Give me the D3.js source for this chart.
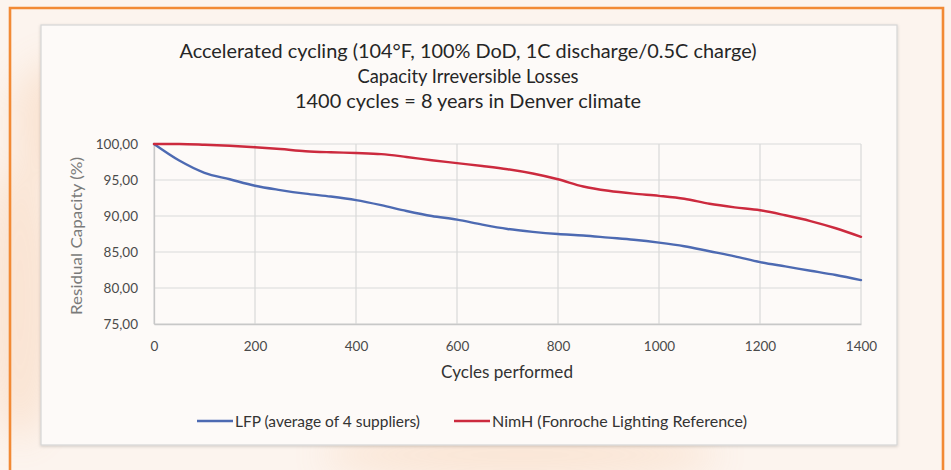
<!DOCTYPE html>
<html>
<head>
<meta charset="utf-8">
<script src="https://cdn.jsdelivr.net/npm/d3@7"></script>
<style>
  html, body { margin: 0; padding: 0; background: #fcf4ee; }
  svg { display: block; }
  text { font-family: Lato, "Open Sans", sans-serif; }
</style>
</head>
<body>
<svg id="chart" width="951" height="470"></svg>
<script>
// Cycle counts sampled every 50 cycles
const cycles = [0, 50, 100, 150, 200, 250, 300, 350, 400, 450, 500, 550, 600, 650, 700,
                750, 800, 850, 900, 950, 1000, 1050, 1100, 1150, 1200, 1250, 1300, 1350, 1400];

// Residual capacity (%) – LFP, average of 4 suppliers
const lfpValues = [100, 97.7, 96.0, 95.1, 94.2, 93.6, 93.1, 92.7, 92.2, 91.5, 90.7, 90.0, 89.5, 88.8, 88.2,
                   87.8, 87.5, 87.3, 87.0, 86.7, 86.3, 85.8, 85.1, 84.4, 83.6, 83.0, 82.4, 81.8, 81.1];

// Residual capacity (%) – NiMH reference
const nimhValues = [100, 100, 99.9, 99.75, 99.55, 99.3, 99.0, 98.85, 98.75, 98.6, 98.2, 97.75, 97.35, 96.95, 96.5,
                    95.9, 95.1, 94.1, 93.5, 93.1, 92.8, 92.4, 91.7, 91.2, 90.8, 90.1, 89.3, 88.3, 87.1];

const xTicks = [0, 200, 400, 600, 800, 1000, 1200, 1400];
const yTicks = [75, 80, 85, 90, 95, 100];

const titleLines = [
  "Accelerated cycling (104°F, 100% DoD, 1C discharge/0.5C charge)",
  "Capacity Irreversible Losses",
  "1400 cycles = 8 years in Denver climate"
];
const titleWidths = [577, 221, 346];
const seriesNames = ["LFP (average of 4 suppliers)", "NimH (Fonroche Lighting Reference)"];
const legendWidths = [185, 255];
const seriesColors = ["#4d6ab2", "#cc2a3e"];

const svg = d3.select("#chart");

// soft orange background motif
const defs = svg.append("defs");
defs.append("filter").attr("id", "soft")
  .attr("x", "-50%").attr("y", "-50%").attr("width", "200%").attr("height", "200%")
  .append("feGaussianBlur").attr("stdDeviation", 18);
const deco = svg.append("g").attr("filter", "url(#soft)").attr("opacity", 0.18);
deco.append("ellipse").attr("cx", 20).attr("cy", 300).attr("rx", 40).attr("ry", 140).attr("fill", "#f2a060");
deco.append("ellipse").attr("cx", 60).attr("cy", 120).attr("rx", 50).attr("ry", 60).attr("fill", "#f2a060");
deco.append("ellipse").attr("cx", 520).attr("cy", 455).attr("rx", 200).attr("ry", 25).attr("fill", "#f2a060");

// chart card
const shadow = defs.append("filter").attr("id", "shadow")
  .attr("x", "-5%").attr("y", "-5%").attr("width", "110%").attr("height", "110%");
shadow.append("feDropShadow").attr("dx", 0).attr("dy", 1).attr("stdDeviation", 1.5)
  .attr("flood-color", "#000").attr("flood-opacity", 0.18);
svg.append("rect")
  .attr("x", 41).attr("y", 25).attr("width", 856).attr("height", 420)
  .attr("fill", "#fdfaf8").attr("stroke", "#d6d6d6").attr("stroke-width", 1.2)
  .attr("filter", "url(#shadow)");

// orange frame (open at the bottom)
svg.append("path")
  .attr("d", "M10,470 L10,8 L943,8 L943,470")
  .attr("fill", "none").attr("stroke", "#f28a35").attr("stroke-width", 2.6);

// plot area
const plot = { left: 154, right: 861, top: 144, bottom: 324 };
const x = d3.scaleLinear().domain([0, 1400]).range([plot.left, plot.right]);
const y = d3.scaleLinear().domain([75, 100]).range([plot.bottom, plot.top]);

// gridlines
const grid = svg.append("g");
grid.selectAll("line.h").data(yTicks).join("line")
  .attr("x1", plot.left).attr("x2", plot.right)
  .attr("y1", d => y(d)).attr("y2", d => y(d))
  .attr("stroke", "#d9d9d9").attr("stroke-width", 1.2);
grid.selectAll("line.v").data(xTicks).join("line")
  .attr("x1", d => x(d)).attr("x2", d => x(d))
  .attr("y1", plot.top).attr("y2", plot.bottom)
  .attr("stroke", "#d9d9d9").attr("stroke-width", 1.2);

// axes
const fmt = d => d3.format(".2f")(d).replace(".", ",");
const yAxis = svg.append("g").attr("transform", `translate(${plot.left},0)`)
  .call(d3.axisLeft(y).tickValues(yTicks).tickFormat(fmt).tickSize(0).tickPadding(16));
const xAxis = svg.append("g").attr("transform", `translate(0,${plot.bottom})`)
  .call(d3.axisBottom(x).tickValues(xTicks).tickFormat(d3.format("d")).tickSize(0).tickPadding(17));
[yAxis, xAxis].forEach(a => {
  a.select(".domain").attr("stroke", "#c8c8c8").attr("stroke-width", 1.3);
  a.selectAll("text").attr("font-size", 13.5).attr("fill", "#4a4a4a")
    .style("font-family", "Lato, 'Open Sans', sans-serif");
});

// series lines
const line = d3.line().x((d, i) => x(cycles[i])).y(d => y(d)).curve(d3.curveMonotoneX);
[lfpValues, nimhValues].forEach((vals, k) => {
  svg.append("path").datum(vals)
    .attr("d", line).attr("fill", "none")
    .attr("stroke", seriesColors[k]).attr("stroke-width", 2.4)
    .attr("stroke-linejoin", "round").attr("stroke-linecap", "round");
});

// title
svg.append("g").selectAll("text").data(titleLines).join("text")
  .attr("x", 468).attr("y", (d, i) => 58 + i * 25)
  .attr("text-anchor", "middle").attr("font-size", 18.5).attr("fill", "#262626")
  .attr("textLength", (d, i) => titleWidths[i]).attr("lengthAdjust", "spacingAndGlyphs")
  .text(d => d);

// axis titles
svg.append("text")
  .attr("transform", `translate(82,236) rotate(-90)`)
  .attr("text-anchor", "middle").attr("font-size", 15.5).attr("fill", "#7a7a7a")
  .attr("textLength", 158).attr("lengthAdjust", "spacingAndGlyphs")
  .text("Residual Capacity  (%)");
svg.append("text")
  .attr("x", 507).attr("y", 378).attr("text-anchor", "middle")
  .attr("font-size", 16.5).attr("fill", "#333")
  .attr("textLength", 132).attr("lengthAdjust", "spacingAndGlyphs")
  .text("Cycles performed");

// legend
const legendX = [197, 454];
const legend = svg.append("g").selectAll("g").data(seriesNames).join("g")
  .attr("transform", (d, i) => `translate(${legendX[i]},421)`);
legend.append("line").attr("x1", 0).attr("x2", 36).attr("y1", 0).attr("y2", 0)
  .attr("stroke", (d, i) => seriesColors[i]).attr("stroke-width", 2.4);
legend.append("text").attr("x", 38).attr("y", 5.5)
  .attr("font-size", 15).attr("fill", "#333")
  .attr("textLength", (d, i) => legendWidths[i]).attr("lengthAdjust", "spacingAndGlyphs")
  .text(d => d);
</script>
</body>
</html>
